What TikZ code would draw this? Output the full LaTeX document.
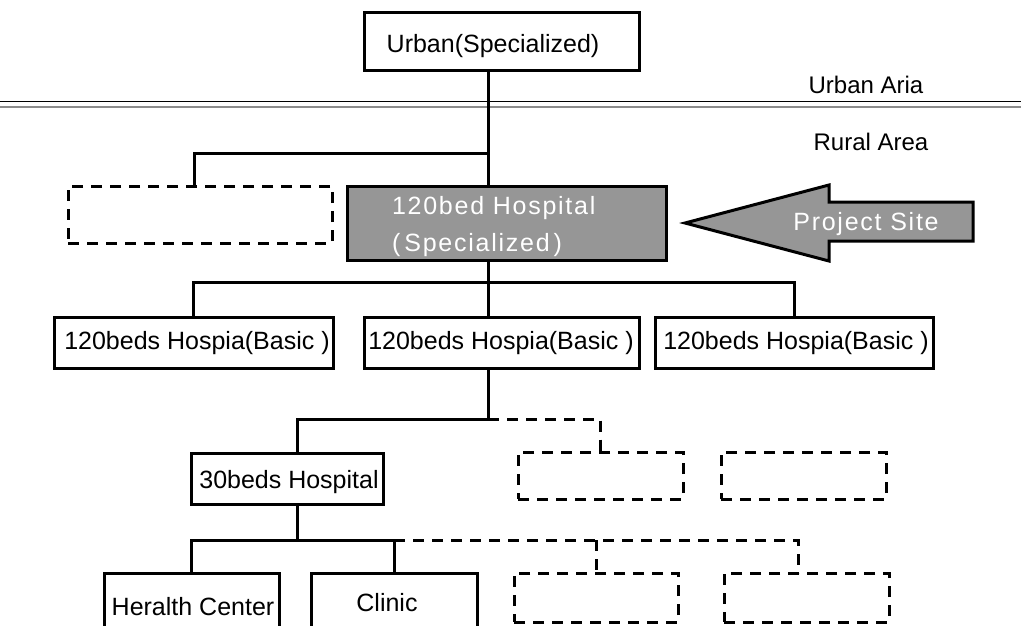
\documentclass[tikz,border=0pt]{standalone}
\usepackage{fontspec}
\setmainfont{Liberation Sans}
\newfontfamily\spaced[LetterSpace=7]{Liberation Sans}
\definecolor{boxgray}{RGB}{150,150,150}
\definecolor{rulegray}{RGB}{140,140,140}

\begin{document}
\begin{tikzpicture}[x=1pt,y=-1pt,
  every node/.style={inner sep=0pt,outer sep=0pt},
  solidbox/.style={draw,line width=3pt},
  dashbox/.style={draw,line width=3pt,dash pattern=on 11pt off 8pt},
  link/.style={line width=3pt},
  dlink/.style={line width=3pt,dash pattern=on 11pt off 8pt},
  lbl/.style={font=\fontsize{25}{29}\selectfont},
  area/.style={font=\fontsize{24}{28}\selectfont},
]
\useasboundingbox (0,0) rectangle (1021,625);
\clip (0,0) rectangle (1021,625);

% urban / rural divider
\coordinate (wl) at (0,101);
\coordinate (wr) at (1021,101);
\coordinate (gl) at (0,107);
\coordinate (gr) at (1021,107);
\draw[line width=1pt] (wl) -- (wr);
\draw[rulegray,line width=2pt] (gl) -- (gr);
\node[area] (urbanaria) at (866,85) {Urban Aria};
\node[area] (ruralarea) at (871,142) {Rural Area};

% boxes
\node[solidbox,minimum width=275pt,minimum height=58pt] (urban) at (501.5,41) {};
\node[dashbox,minimum width=264pt,minimum height=57pt] (dleft) at (200,214.5) {};
\node[solidbox,fill=boxgray,minimum width=319pt,minimum height=74pt] (hosp) at (506.5,223) {};
\node[solidbox,minimum width=279pt,minimum height=51pt] (b1) at (193.5,342.5) {};
\node[solidbox,minimum width=275pt,minimum height=51pt] (b2) at (501.5,342.5) {};
\node[solidbox,minimum width=278pt,minimum height=51pt] (b3) at (794,342.5) {};
\node[solidbox,minimum width=192pt,minimum height=51pt] (h30) at (287,478.5) {};
\node[dashbox,minimum width=165pt,minimum height=47pt] (dA) at (600.5,475.5) {};
\node[dashbox,minimum width=165pt,minimum height=47pt] (dB) at (803.5,475.5) {};
\node[solidbox,minimum width=175pt,minimum height=77pt] (hc) at (191.5,611.5) {};
\node[solidbox,minimum width=166pt,minimum height=77pt] (clinic) at (394,611.5) {};
\node[dashbox,minimum width=164pt,minimum height=49pt] (dC) at (596,597.5) {};
\node[dashbox,minimum width=165pt,minimum height=49pt] (dD) at (806.5,597.5) {};

% box texts
\node[lbl] (turban) at (493,46) {Urban(Specialized)};
\node[lbl,white,anchor=west] (thosp1) at (392,208) {\spaced 120bed Hospital};
\node[lbl,white,anchor=west] (thosp2) at (392,245) {\spaced (\kern4pt Specialized\kern4pt)};
\node[lbl] (tb1) at (197,343) {120beds Hospia(Basic )};
\node[lbl] (tb2) at (501,343) {120beds Hospia(Basic )};
\node[lbl] (tb3) at (796,343) {120beds Hospia(Basic )};
\node[lbl] (th30) at (289,482) {30beds Hospital};
\node[lbl] (thc) at (193,607) {Heralth Center};
\node[lbl] (tclinic) at (387,603) {Clinic};

% project site arrow
\draw[line width=3pt,fill=boxgray,line join=miter]
  (685,223) -- (829,185) -- (829,202) -- (973,202) -- (973,241)
  -- (829,241) -- (829,261) -- cycle;
\node[lbl,white] (tsite) at (866,224) {\spaced Project Site};

% junctions
\coordinate (j1) at (488,153);
\coordinate (j1l) at (194,153);
\coordinate (j2) at (488,282);
\coordinate (j3) at (488,419);
\coordinate (j3l) at (297,419);
\coordinate (j4) at (297,540);
\coordinate (j4r) at (798,540);

% connectors
\draw[link] (urban.south -| j1) -- (hosp.north -| j1);
\draw[link] (j1) -- (j1l) -- (dleft.north -| j1l);
\draw[link] (hosp.south -| j2) -- (j2);
\draw[link] (b1.north) -- (b1.north |- j2) -- (b3.north |- j2) -- (b3.north);
\draw[link] (j2) -- (b2.north -| j2);
\draw[link] (b2.south -| j3) -- (j3) -- (j3l) -- (h30.north -| j3l);
\draw[dlink] (j3) -- (dA.north |- j3) -- (dA.north);
\draw[link] (h30.south -| j4) -- (j4);
\draw[link] (hc.north) -- (hc.north |- j4) -- (clinic.north |- j4) -- (clinic.north);
\draw[dlink] (clinic.north |- j4) -- (j4r) -- (dD.north -| j4r);
\draw[dlink] (dC.north |- j4) -- (dC.north);
\end{tikzpicture}
\end{document}
